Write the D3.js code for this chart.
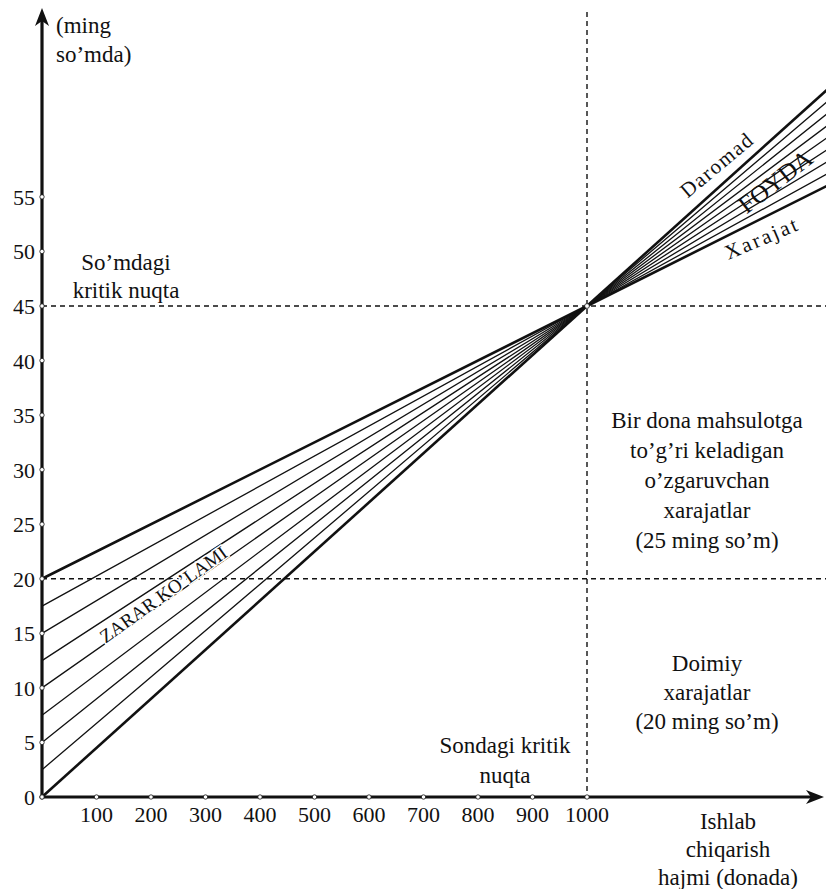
<!DOCTYPE html>
<html><head><meta charset="utf-8">
<script src="https://cdn.jsdelivr.net/npm/d3@7"></script>
<style>
svg text { font-family: 'Liberation Serif', 'Tinos', 'Times New Roman', serif; }
</style>
</head>
<body style="margin:0;background:#fff">
<script>
// ---- data ----
const yTicks = [0,5,10,15,20,25,30,35,40,45,50,55];
const xTicks = [100,200,300,400,500,600,700,800,900,1000];
const allTickX = [0,100,200,300,400,500,600,700,800,900,1000];
const breakEvenQty = 1000;
const breakEvenValue = 45;
const fixedCost = 20;
// fan of lines: value at x=0 and value at the right edge (x=1440)
const lineStart = [20, 17.5, 15, 12.5, 10, 7.5, 5, 2.5, 0];
const lineEnd   = [56, 57.1, 58.2, 59.3, 60.4, 61.5, 62.6, 63.7, 64.8];
const xEdge = 1440;
const thickLines = [20, 0];

const W = 826, H = 889;
const FONT = "'Liberation Serif'";
const svg = d3.select("body").append("svg").attr("width", W).attr("height", H);

const x = d3.scaleLinear().domain([0, 1000]).range([42, 587]);
const y = d3.scaleLinear().domain([0, 45]).range([797, 306]);

svg.append("defs").append("clipPath").attr("id","clip")
  .append("rect").attr("x",0).attr("y",0).attr("width",W).attr("height",H);

const g = svg.append("g").attr("clip-path","url(#clip)");

// dashed reference lines
const dash = "5,4";
g.append("line").attr("x1", x(0)).attr("x2", W).attr("y1", y(breakEvenValue)).attr("y2", y(breakEvenValue))
  .attr("stroke","#111").attr("stroke-width",1.4).attr("stroke-dasharray",dash);
g.append("line").attr("x1", x(0)).attr("x2", W).attr("y1", y(fixedCost)).attr("y2", y(fixedCost))
  .attr("stroke","#111").attr("stroke-width",1.4).attr("stroke-dasharray",dash);
g.append("line").attr("x1", x(breakEvenQty)).attr("x2", x(breakEvenQty)).attr("y1", 12).attr("y2", y(0))
  .attr("stroke","#111").attr("stroke-width",1.4).attr("stroke-dasharray",dash);

// fan lines
const lineGen = d3.line().x(d => x(d[0])).y(d => y(d[1]));
lineStart.forEach((s, i) => {
  const pts = [[0, s], [breakEvenQty, breakEvenValue], [xEdge, lineEnd[i]]];
  g.append("path").attr("d", lineGen(pts)).attr("fill","none")
    .attr("stroke","#111")
    .attr("stroke-width", thickLines.includes(s) ? 2.6 : 1.3);
});

// axes
const axisG = svg.append("g");
axisG.append("line").attr("x1", x(0)).attr("x2", x(0)).attr("y1", y(0)+1.5).attr("y2", 18)
  .attr("stroke","#111").attr("stroke-width",3.2);
axisG.append("path").attr("d", `M${x(0)},8 L${x(0)-7},26 L${x(0)},21 L${x(0)+7},26 Z`).attr("fill","#111");
axisG.append("line").attr("x1", x(0)-1.5).attr("x2", 815).attr("y1", y(0)).attr("y2", y(0))
  .attr("stroke","#111").attr("stroke-width",3.2);
axisG.append("path").attr("d", `M824,${y(0)} L806,${y(0)-7} L811,${y(0)} L806,${y(0)+7} Z`).attr("fill","#111");

// tick dots
yTicks.forEach(v => axisG.append("circle").attr("cx", x(0)).attr("cy", y(v)).attr("r",2.2)
  .attr("fill","#fff").attr("stroke","#111").attr("stroke-width",0.8));
allTickX.forEach(v => axisG.append("circle").attr("cx", x(v)).attr("cy", y(0)).attr("r",2.2)
  .attr("fill","#fff").attr("stroke","#111").attr("stroke-width",0.8));
axisG.append("circle").attr("cx", x(breakEvenQty)).attr("cy", y(breakEvenValue)).attr("r",2.4)
  .attr("fill","#fff").attr("stroke","#111").attr("stroke-width",0.8);

// every text positioned with a transform; baseline shift done in pixels
function put(cx, cy, ang, size, anchor, t) {
  return svg.append("text")
    .attr("transform", `translate(${cx},${cy}) rotate(${ang})`)
    .attr("y", Math.round(size * 0.35))
    .attr("text-anchor", anchor)
    .attr("font-size", size)
    .attr("font-family", "Liberation Serif")
    .style("font-family", FONT)
    .attr("fill", "#111")
    .text(t);
}

// tick labels
yTicks.forEach(v => put(35, y(v), 0, 22, "end", v));
xTicks.forEach(v => put(x(v), y(0) + 17, 0, 22, "middle", v));

function block(lines, cx, cy0, step, size, anchor) {
  lines.forEach((t, i) => put(cx, cy0 + i*step, 0, size, anchor || "middle", t));
}
block(["(ming", "so’mda)"], 56, 25, 29, 23, "start");
block(["So’mdagi", "kritik nuqta"], 126, 262, 28, 23);
block(["Bir dona mahsulotga", "to’g’ri keladigan", "o’zgaruvchan", "xarajatlar", "(25 ming so’m)"], 707, 420, 30, 23);
block(["Doimiy", "xarajatlar", "(20 ming so’m)"], 707, 663, 29, 23);
block(["Sondagi kritik", "nuqta"], 505, 745, 30, 23);
block(["Ishlab", "chiqarish", "hajmi (donada)"], 728, 821, 28, 23);

// rotated labels
put(717, 165, -40, 21, "middle", "Daromad").attr("letter-spacing", 1.5);
put(775, 181, -38, 25, "middle", "FOYDA");
put(762, 238, -23, 21, "middle", "Xarajat").attr("letter-spacing", 2.5);
put(163, 594, -35.5, 19, "middle", "ZARAR KO’LAMI")
  .attr("stroke","#fff").attr("stroke-width",3).attr("paint-order","stroke");
</script></body></html>
